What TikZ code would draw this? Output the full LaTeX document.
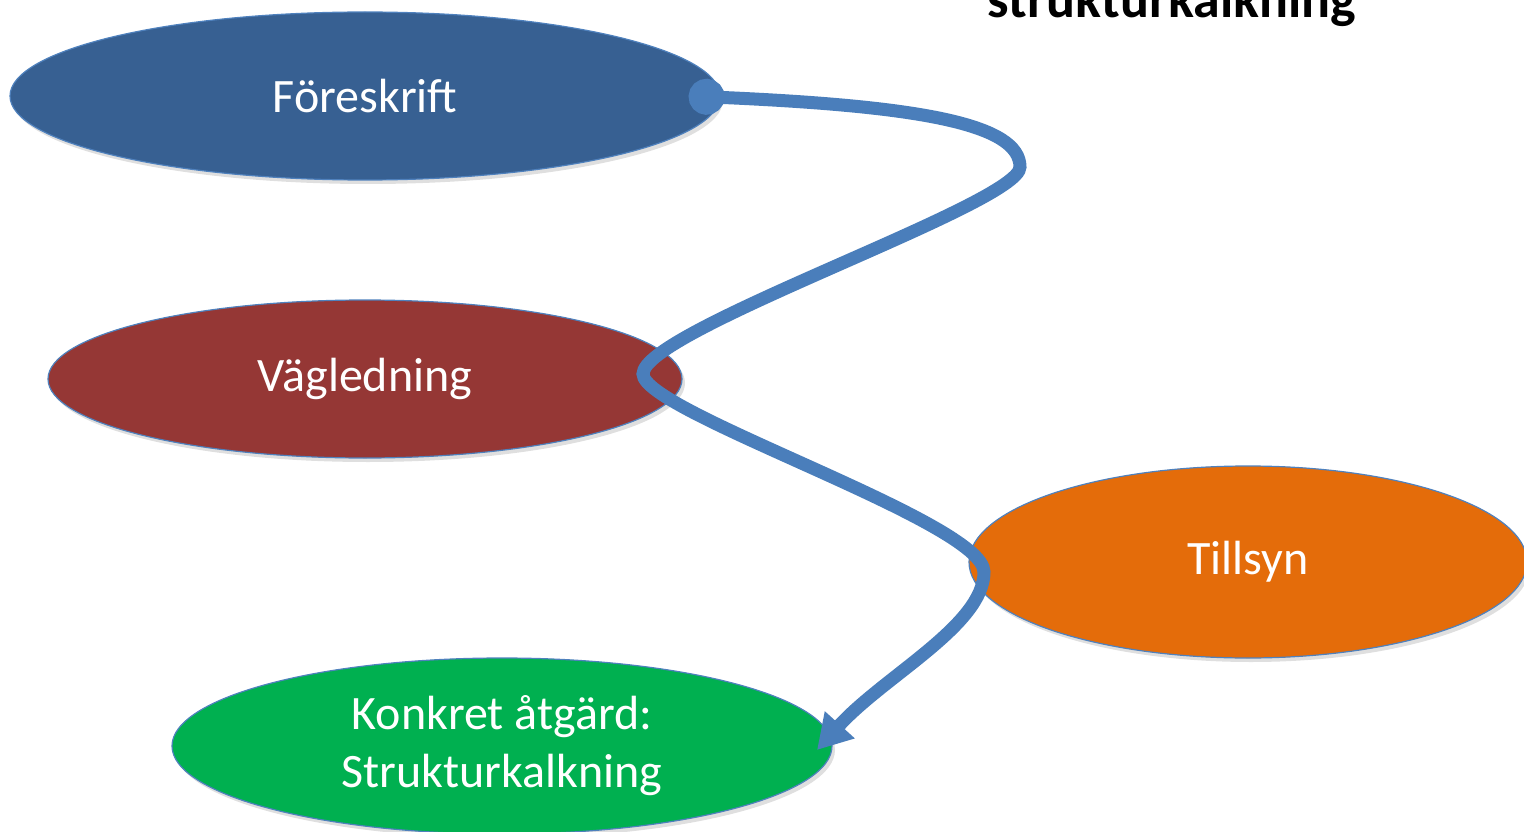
\documentclass[tikz,border=0pt]{standalone}
\usepackage{fontspec}
\setmainfont{Carlito}
\usetikzlibrary{shapes.geometric, arrows.meta, shadows}
\definecolor{foreblue}{HTML}{376092}
\definecolor{vagred}{HTML}{953735}
\definecolor{tillorange}{HTML}{E46C0A}
\definecolor{konkgreen}{HTML}{00B050}
\definecolor{flowblue}{HTML}{4A7EBB}
\definecolor{rimblue}{HTML}{4F81BD}
\begin{document}
\begin{tikzpicture}[x=1pt, y=1pt,
  blob/.style={ellipse, draw=rimblue, line width=1.2pt, inner sep=0pt, text=white,
    font=\fontsize{48}{58}\selectfont, align=center,
    drop shadow={shadow xshift=3pt, shadow yshift=-4pt, opacity=0.25}},
  flow/.style={draw=flowblue, line width=13pt,
    {Circle[length=36pt]}-{Triangle[width=38pt, length=34pt]}}]
\useasboundingbox (0,0) rectangle (1524,-832);
\node[blob, fill=foreblue, minimum width=710pt, minimum height=168pt] (fore) at (365,-96) {Föreskrift};
\node[blob, fill=vagred, minimum width=634pt, minimum height=158pt] (vag) at (365,-379) {Vägledning};
\node[blob, fill=tillorange, minimum width=558pt, minimum height=192pt] (till) at (1248,-562) {Tillsyn};
\node[blob, fill=konkgreen, minimum width=660pt, minimum height=176pt] (konk) at (502,-746) {Konkret åtgärd:\\Strukturkalkning};
\node[anchor=base, font=\fontsize{54}{64}\selectfont\bfseries] (title) at (1172,-18) {strukturkalkning};
\coordinate (start) at ([xshift=-32pt]fore.east);
\coordinate (turn1) at (1020,-167);
\coordinate (turn2) at (643,-374);
\coordinate (turn3) at (984,-572);
\coordinate (tip) at (817,-750);
\draw[flow] (start) .. controls (920,-106) and (1020,-124) .. (turn1)
  .. controls (1020,-204) and (643,-330) .. (turn2)
  .. controls (643,-412) and (984,-522) .. (turn3)
  .. controls (984,-625) and (884,-676) .. (tip);
\end{tikzpicture}
\end{document}
